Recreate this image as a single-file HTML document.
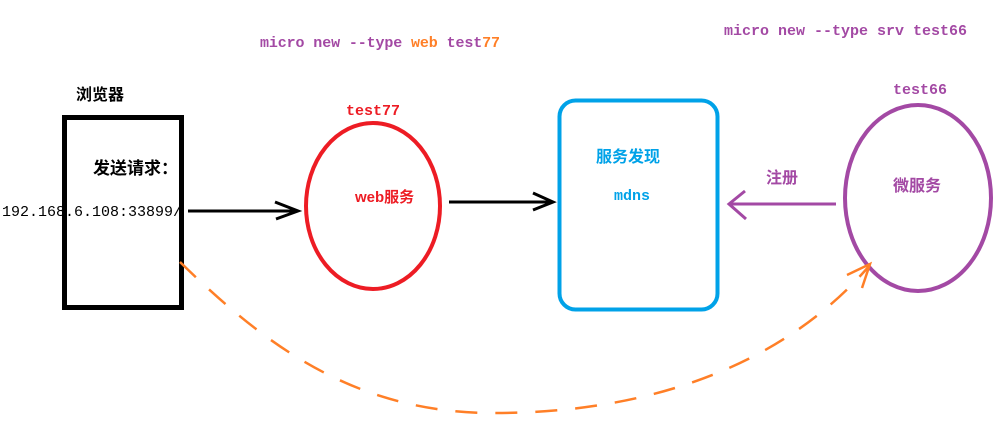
<!DOCTYPE html>
<html><head><meta charset="utf-8"><style>
html,body{margin:0;padding:0;background:#fff;width:1005px;height:436px;overflow:hidden}
svg{display:block}
text{font-family:"Liberation Mono","Noto Sans CJK SC",monospace;font-weight:bold}
.cn{font-family:"Liberation Sans","Noto Sans CJK SC",sans-serif;font-weight:bold}
</style></head><body>
<svg width="1005" height="436" viewBox="0 0 1005 436">
<text x="260" y="47" font-size="15" fill="#a349a4" textLength="240">micro new --type <tspan fill="#ff7f27">web</tspan> test<tspan fill="#ff7f27">77</tspan></text>
<text x="724" y="35" font-size="15" fill="#a349a4" textLength="243">micro new --type srv test66</text>
<text x="76" y="100" font-size="16" class="cn" fill="#000">浏览器</text>
<rect x="64.5" y="117.5" width="117" height="190" fill="none" stroke="#000" stroke-width="5"/>
<text x="93" y="174" font-size="17" class="cn" fill="#000">发送请求：</text>
<text x="2" y="216" font-size="15" fill="#000" style="font-weight:normal" textLength="180">192.168.6.108:33899/</text>
<line x1="188" y1="211" x2="298" y2="211" stroke="#000" stroke-width="3"/>
<polyline points="275,202 298,211 276,219" fill="none" stroke="#000" stroke-width="3"/>
<text x="346" y="115" font-size="15" fill="#ed1c24">test77</text>
<ellipse cx="373" cy="206" rx="67" ry="83" fill="none" stroke="#ed1c24" stroke-width="4"/>
<text x="355" y="202" font-size="15" class="cn" fill="#ed1c24">web服务</text>
<line x1="449" y1="202" x2="553" y2="202" stroke="#000" stroke-width="3"/>
<polyline points="533,193 553,202 533,210" fill="none" stroke="#000" stroke-width="3"/>
<rect x="559.5" y="100.5" width="158" height="209" rx="16" fill="none" stroke="#00a2e8" stroke-width="4"/>
<text x="596" y="162" font-size="16" class="cn" fill="#00a2e8">服务发现</text>
<text x="614" y="200" font-size="15" fill="#00a2e8">mdns</text>
<text x="766" y="183" font-size="16" class="cn" fill="#a349a4">注册</text>
<line x1="729" y1="204" x2="836" y2="204" stroke="#a349a4" stroke-width="3"/>
<polyline points="745,191 729,204 746,219" fill="none" stroke="#a349a4" stroke-width="3"/>
<text x="893" y="94" font-size="15" fill="#a349a4">test66</text>
<ellipse cx="918" cy="198" rx="73" ry="93" fill="none" stroke="#a349a4" stroke-width="4"/>
<text x="893" y="191" font-size="16" class="cn" fill="#a349a4">微服务</text>
<path d="M180,262 C260,340 350,412 490,413 C640,414 780,370 870,265" fill="none" stroke="#ff7f27" stroke-width="2.5" stroke-dasharray="22,18"/>
<polyline points="847,275 870,264 862,288" fill="none" stroke="#ff7f27" stroke-width="2.5"/>
</svg>
</body></html>
